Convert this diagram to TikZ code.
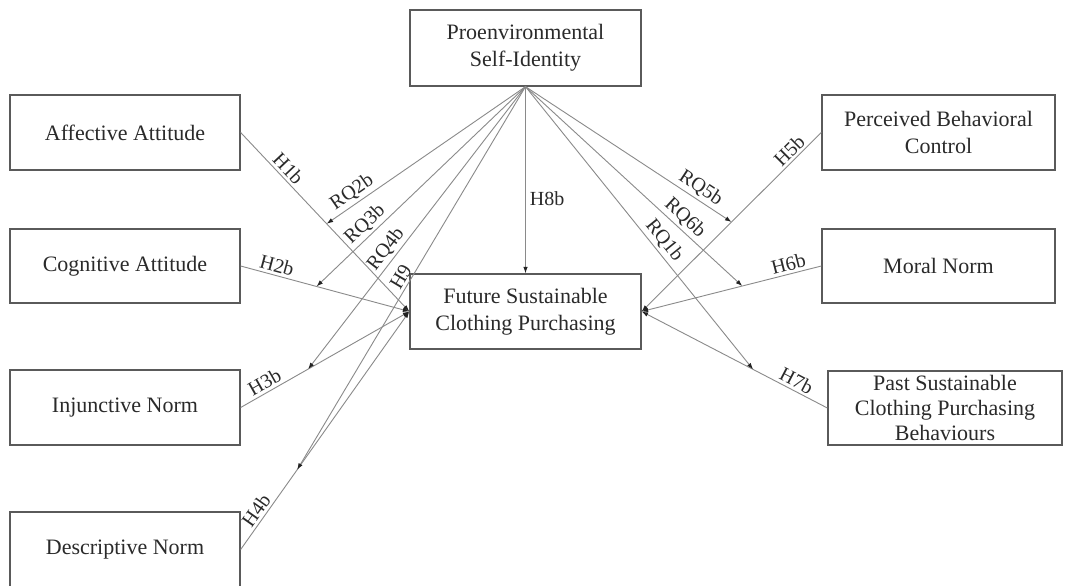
\documentclass[tikz,border=0pt]{standalone}
\usepackage{fontspec}
\setmainfont{Liberation Serif}
\usetikzlibrary{arrows.meta}
\definecolor{boxc}{HTML}{5A5A5A}
\definecolor{linec}{HTML}{8A8A8A}
\definecolor{tipc}{HTML}{222222}
\definecolor{txt}{HTML}{2A2A2A}
\begin{document}
\begin{tikzpicture}[x=1pt,y=-1pt,
  box/.style={draw=boxc,line width=1.3pt,text=txt,align=center,font=\fontsize{22}{27}\selectfont,inner sep=0pt},
  conn/.style={draw=linec,line width=0.9pt,-{Latex[length=6.5pt,width=4.5pt,color=tipc]}},
  lab/.style={sloped,above,text=txt,font=\fontsize{20}{22}\selectfont,inner sep=2.5pt}]
\clip (0,0) rectangle (1074,586);
\fill[white] (0,0) rectangle (1074,586);
% boxes
\node[box,minimum width=231pt,minimum height=76pt] (psi) at (525.5,48) {Proenvironmental\\Self-Identity};
\node[box,minimum width=230pt,minimum height=75pt] (aff) at (125,132.5) {Affective Attitude};
\node[box,minimum width=230pt,minimum height=74pt] (cog) at (125,266) {Cognitive Attitude};
\node[box,minimum width=230pt,minimum height=75pt] (inj) at (125,407.5) {Injunctive Norm};
\node[box,minimum width=230pt,minimum height=75pt] (des) at (125,549.5) {Descriptive Norm};
\node[box,minimum width=231pt,minimum height=75pt] (fut) at (525.5,311.5) {Future Sustainable\\Clothing Purchasing};
\node[box,minimum width=233pt,minimum height=75pt] (pbc) at (938.5,132.5) {Perceived Behavioral\\Control};
\node[box,minimum width=233pt,minimum height=74pt] (mor) at (938.5,266) {Moral Norm};
\node[box,minimum width=234pt,minimum height=74pt,font=\fontsize{22}{25}\selectfont] (past) at (945,408) {Past Sustainable\\Clothing Purchasing\\Behaviours};
% direct paths
\draw[conn] (aff.east) -- (fut.west) coordinate[pos=0.51] (m1) node[lab,pos=0.24] {H1b};
\draw[conn] (cog.east) -- (fut.west) coordinate[pos=0.45] (m2) node[lab,pos=0.2] {H2b};
\draw[conn] (inj.east) -- (fut.west) coordinate[pos=0.40] (m3) node[lab,pos=0.17] {H3b};
\draw[conn] (des.east) -- (fut.west) coordinate[pos=0.335] (m4) node[lab,pos=0.14] {H4b};
\draw[conn] (pbc.west) -- (fut.east) coordinate[pos=0.50] (m5) node[lab,pos=0.14] {H5b};
\draw[conn] (mor.west) -- (fut.east) coordinate[pos=0.44] (m6) node[lab,pos=0.17] {H6b};
\draw[conn] (past.west) -- (fut.east) coordinate[pos=0.40] (m7) node[lab,pos=0.19] {H7b};
\draw[conn] (psi.south) -- (fut.north) node[pos=0.6,right,text=txt,font=\fontsize{20}{22}\selectfont,inner sep=4pt] {H8b};
% moderation paths
\draw[conn] (psi.south) -- (m1) node[lab,pos=0.84] {RQ2b};
\draw[conn] (psi.south) -- (m2) node[lab,pos=0.73] {RQ3b};
\draw[conn] (psi.south) -- (m3) node[lab,pos=0.60] {RQ4b};
\draw[conn] (psi.south) -- (m4) node[lab,pos=0.51] {H9};
\draw[conn] (psi.south) -- (m5) node[lab,pos=0.82] {RQ5b};
\draw[conn] (psi.south) -- (m6) node[lab,pos=0.70] {RQ6b};
\draw[conn] (psi.south) -- (m7) node[lab,pos=0.57] {RQ1b};
\end{tikzpicture}
\end{document}
